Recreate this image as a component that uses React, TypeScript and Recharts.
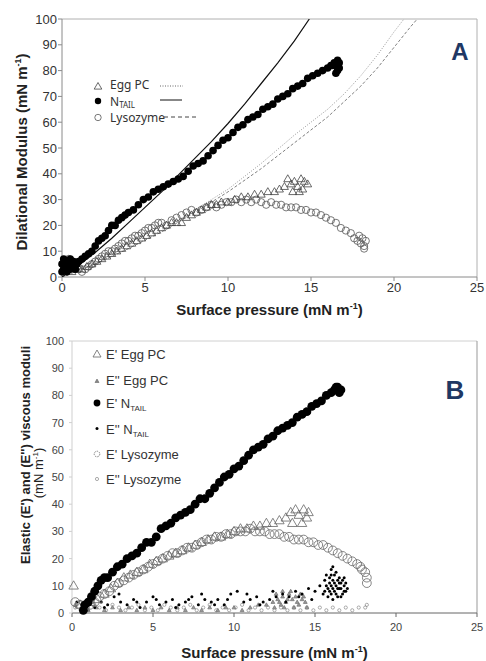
import { ScatterChart, Scatter, XAxis, YAxis, ReferenceLine } from 'recharts';

const xTicks = [0, 5, 10, 15, 20, 25];
const yTicks = [0, 10, 20, 30, 40, 50, 60, 70, 80, 90, 100];

// ---- panel A: dilational modulus vs surface pressure ----
const aEggPC = [
  [0.6, 2], [0.9, 3], [1.2, 3], [1.5, 4], [1.8, 5], [2.1, 6], [2.4, 7], [2.7, 8], [3, 9], [3.3, 10],
  [3.6, 11], [3.9, 12], [4.2, 13], [4.5, 14], [4.8, 15], [5.1, 16], [5.4, 17], [5.7, 18], [6, 19],
  [6.3, 20], [6.6, 21], [6.9, 21], [7.2, 21], [7.5, 23], [7.8, 24], [8.1, 25], [8.4, 26], [8.7, 27],
  [9, 28], [9.3, 28], [9.6, 29], [10, 29], [10.4, 30], [10.8, 31], [11.2, 31], [11.6, 32], [12, 32],
  [12.4, 33], [12.8, 33], [13.1, 34], [13.4, 35], [13.6, 38], [13.8, 36], [14, 37], [14.2, 35],
  [14.4, 38], [14.6, 37], [14.8, 36], [13.9, 33], [14.3, 33], [14.5, 34],
];
const aNtail = [
  [0, 2], [0, 5], [0.1, 3], [0.1, 7], [0.2, 4], [0.3, 6], [0.3, 2], [0.4, 5], [0.5, 3], [0.5, 7],
  [0.6, 4], [0.7, 6], [0.8, 3], [0.9, 5], [1, 6], [1.2, 7], [1.4, 8], [1.6, 9], [1.8, 10], [2, 12],
  [2.2, 14], [2.4, 15], [2.6, 16], [2.8, 18], [3, 20], [3.2, 20], [3.4, 22], [3.6, 23], [3.8, 24],
  [4, 25], [4.3, 26], [4.6, 28], [4.9, 30], [5.2, 31], [5.5, 33], [5.8, 34], [6.1, 35], [6.4, 36],
  [6.7, 37], [7, 38], [7.3, 39], [7.6, 41], [7.9, 43], [8.2, 44], [8.5, 45], [8.8, 47], [9.1, 49],
  [9.4, 51], [9.7, 53], [10, 54], [10.3, 56], [10.6, 58], [10.9, 59], [11.2, 61], [11.5, 62],
  [11.8, 63], [12.1, 65], [12.4, 66], [12.7, 67], [13, 69], [13.3, 70], [13.6, 71], [13.9, 73],
  [14.2, 74], [14.5, 75], [14.8, 77], [15.1, 78], [15.4, 79], [15.7, 80], [16, 81], [16.2, 82],
  [16.4, 83], [16.6, 84], [16.7, 83], [16.7, 81], [16.6, 80], [16.5, 79], [16.3, 82], [16.5, 82],
];
const aLysozyme = [
  [0.1, 3], [0.2, 6], [0.4, 7], [0.6, 5], [0.8, 4], [1, 3], [1.2, 2], [1.4, 3], [1.6, 4], [1.8, 5],
  [2, 6], [2.2, 7], [2.4, 8], [2.6, 9], [2.8, 10], [3, 10], [3.2, 11], [3.4, 12], [3.6, 13], [3.8, 14],
  [4, 14], [4.2, 15], [4.4, 16], [4.6, 16], [4.8, 17], [5, 18], [5.2, 19], [5.4, 19], [5.6, 20],
  [5.8, 21], [6, 21], [6.3, 20], [6.6, 22], [6.9, 23], [7.2, 24], [7.5, 25], [7.8, 26], [8.1, 25],
  [8.4, 26], [8.7, 27], [9, 28], [9.3, 27], [9.6, 28], [9.9, 29], [10.2, 29], [10.5, 30], [10.8, 29],
  [11.1, 30], [11.4, 29], [11.7, 30], [12, 29], [12.3, 28], [12.6, 29], [12.9, 28], [13.2, 28],
  [13.5, 27], [13.8, 27], [14.1, 27], [14.4, 26], [14.7, 26], [15, 25], [15.3, 25], [15.6, 24],
  [15.9, 23], [16.2, 22], [16.5, 21], [16.8, 19], [17.1, 18], [17.4, 17], [17.6, 15], [17.8, 14],
  [18, 13], [18.2, 12], [18.1, 15], [17.9, 16], [18.2, 11], [18.3, 14],
];
// fitted curves
const fitNtail = [
  [0, 0], [1, 4.5], [2, 9.5], [3, 15], [4, 21], [5, 27], [6, 33], [7, 39.5], [8, 46], [9, 52.5],
  [10, 59.5], [11, 67], [12, 75], [13, 83], [14, 91.5], [14.9, 100],
];
const fitEggPC = [
  [0, 0], [2, 5], [4, 11], [6, 18], [8, 26], [10, 34], [12, 44], [14, 55], [16, 65], [17, 71],
  [18, 78], [19, 86], [20, 95], [20.6, 100],
];
const fitLysozyme = [
  [0, 0], [2, 5], [4, 11], [6, 17.5], [8, 25], [10, 33], [12, 42], [14, 52], [16, 62], [17, 68],
  [18, 74], [19, 81], [20, 89], [21, 97], [21.4, 100],
];

// ---- panel B: elastic E' and viscous E'' moduli ----
const bEggPCE1 = [
  [0.1, 10], [0.5, 3], [0.8, 2], [1.2, 4], [1.6, 5], [2, 7], [2.4, 9], [2.8, 11], [3.2, 13], [3.6, 14],
  [4, 15], [4.4, 16], [4.8, 18], [5.2, 19], [5.6, 20], [6, 21], [6.4, 22], [6.8, 23], [7.2, 24],
  [7.6, 25], [8, 26], [8.4, 27], [8.8, 28], [9.2, 28], [9.6, 29], [10, 30], [10.4, 31], [10.8, 31],
  [11.2, 32], [11.6, 32], [12, 33], [12.4, 33], [12.8, 34], [13.2, 35], [13.5, 37], [13.8, 38],
  [14, 36], [14.3, 38], [14.6, 37], [13.6, 33], [14.2, 33], [14.5, 35],
];
const bEggPCE2 = [
  [0.2, 3], [0.6, 2], [1, 1], [1.5, 2], [2, 1], [2.5, 2], [3, 1], [3.5, 2], [4, 1], [4.5, 2], [5, 1],
  [5.5, 2], [6, 1], [6.5, 2], [7, 1], [7.5, 2], [8, 1], [8.5, 2], [9, 1], [9.5, 2], [10, 2], [10.5, 1],
  [11, 2], [11.5, 3], [12, 3], [12.4, 4], [12.7, 5], [13, 6], [13.2, 4], [13.4, 7], [13.6, 5],
  [13.8, 6], [14, 3], [14.2, 5], [14.4, 4], [13.1, 2], [13.7, 2], [12.9, 3], [12.6, 7], [13, 8],
  [13.3, 5], [13.5, 8], [13.9, 4], [14.1, 7], [14.3, 6], [12.8, 4], [12.5, 2], [14.5, 2],
];
const bNtailE1 = [
  [0.7, 1], [0.8, 3], [1, 4], [1.2, 6], [1.4, 8], [1.6, 10], [1.8, 12], [2, 13], [2.2, 13], [2.5, 15],
  [2.8, 17], [3.1, 18], [3.4, 20], [3.7, 21], [4, 22], [4.3, 24], [4.6, 26], [4.9, 26], [5.2, 28],
  [5.5, 31], [5.8, 32], [6.1, 33], [6.4, 35], [6.7, 36], [7, 37], [7.3, 38], [7.6, 40], [7.9, 42],
  [8.2, 42], [8.5, 44], [8.8, 46], [9.1, 48], [9.4, 50], [9.7, 51], [10, 53], [10.3, 54], [10.6, 56],
  [10.9, 58], [11.2, 60], [11.5, 61], [11.8, 62], [12.1, 64], [12.4, 65], [12.7, 67], [13, 68],
  [13.3, 69], [13.6, 70], [13.9, 72], [14.2, 73], [14.5, 74], [14.8, 76], [15.1, 77], [15.4, 78],
  [15.7, 80], [16, 81], [16.2, 82], [16.4, 83], [16.6, 82], [16.5, 81], [16.3, 83],
];
const bNtailE2 = [
  [0.3, 4], [0.6, 3], [1, 5], [1.2, 7], [1.4, 2], [1.8, 4], [2, 2], [2.2, 3], [2.6, 6], [2.9, 7], [3, 4],
  [3.4, 3], [3.8, 5], [4, 4], [4.2, 2], [4.6, 4], [5, 6], [5.2, 5], [5.4, 3], [5.8, 4], [6.2, 5], [6.4, 2],
  [6.6, 3], [7, 4], [7.2, 5], [7.4, 6], [7.8, 3], [8, 7], [8.2, 5], [8.6, 4], [8.8, 3], [9, 5], [9.4, 3],
  [9.6, 5], [9.8, 7], [10.2, 8], [10.6, 4], [10.8, 7], [11, 5], [11.4, 6], [11.6, 3], [11.8, 4],
  [12.2, 5], [12.4, 8], [12.6, 6], [13, 7], [13.2, 4], [13.4, 6], [13.8, 8], [14, 6], [14.2, 7],
  [14.6, 9], [14.8, 5], [15, 8], [15.3, 10], [15.5, 7], [15.6, 12], [15.6, 8], [15.7, 14], [15.7, 10],
  [15.8, 9], [15.8, 6], [15.9, 11], [15.9, 13], [15.9, 8], [16, 14], [16, 7], [16, 10], [16, 16],
  [16.1, 5], [16.1, 12], [16.1, 9], [16.1, 17], [16.2, 11], [16.2, 8], [16.2, 14], [16.3, 15],
  [16.3, 10], [16.3, 7], [16.4, 6], [16.4, 12], [16.4, 9], [16.5, 13], [16.5, 9], [16.5, 11],
  [16.6, 9], [16.6, 11], [16.6, 6], [16.7, 12], [16.7, 7], [16.8, 10], [16.8, 13], [16.8, 8],
  [16.9, 8], [16.9, 11], [17, 9],
];
const bLysoE1 = [
  [0.2, 4], [0.5, 3], [0.8, 2], [1.1, 3], [1.4, 4], [1.7, 6], [2, 7], [2.3, 8], [2.6, 10], [2.9, 11],
  [3.2, 12], [3.5, 13], [3.8, 14], [4.1, 15], [4.4, 16], [4.7, 17], [5, 18], [5.3, 19], [5.6, 20],
  [5.9, 21], [6.2, 22], [6.5, 22], [6.8, 23], [7.1, 24], [7.4, 24], [7.7, 25], [8, 26], [8.3, 27],
  [8.6, 27], [8.9, 28], [9.2, 28], [9.5, 29], [9.8, 29], [10.1, 30], [10.4, 30], [10.7, 30], [11, 31],
  [11.3, 30], [11.6, 30], [11.9, 30], [12.2, 29], [12.5, 29], [12.8, 29], [13.1, 28], [13.4, 28],
  [13.7, 27], [14, 27], [14.3, 27], [14.6, 26], [14.9, 26], [15.2, 25], [15.5, 25], [15.8, 24],
  [16.1, 23], [16.4, 22], [16.7, 21], [17, 20], [17.3, 19], [17.6, 18], [17.9, 16], [18.1, 15],
  [18.2, 13], [18.2, 11], [17.8, 17],
];
const bLysoE2 = [
  [0.2, 2], [0.5, 4], [0.9, 1], [1.3, 3], [1.7, 2], [2.1, 1], [2.5, 3], [2.9, 2], [3.3, 1], [3.7, 2],
  [4.1, 3], [4.5, 1], [4.9, 2], [5.3, 1], [5.7, 3], [6.1, 2], [6.5, 1], [6.9, 2], [7.3, 3], [7.7, 1],
  [8.1, 2], [8.5, 3], [8.9, 1], [9.3, 2], [9.7, 1], [10.1, 2], [10.5, 3], [10.9, 1], [11.3, 2],
  [11.7, 1], [12.1, 2], [12.5, 1], [12.9, 2], [13.3, 1], [13.7, 2], [14.1, 1], [14.5, 2], [14.9, 1],
  [15.3, 2], [15.7, 1], [16.1, 2], [16.5, 1], [16.9, 2], [17.3, 1], [17.7, 2], [18.1, 2], [18.2, 3],
];

const pts = (arr: number[][]) => arr.map(([x, y]) => ({ x, y }));

const SANS = '"Liberation Sans", Arial, sans-serif';
const NAVY = '#1F3864';

const dot = (r: number, fill: string) => (p: any) => <circle cx={p.cx} cy={p.cy} r={r} fill={fill} />;
const ring = (r: number, stroke: string, w = 0.8) => (p: any) => (
  <circle cx={p.cx} cy={p.cy} r={r} fill="none" stroke={stroke} strokeWidth={w} />
);
const tri = (s: number, stroke: string, fill = 'none') => (p: any) => (
  <path
    d={`M${p.cx},${p.cy - s} L${p.cx + s * 0.95},${p.cy + s * 0.65} L${p.cx - s * 0.95},${p.cy + s * 0.65} Z`}
    fill={fill}
    stroke={stroke}
    strokeWidth={0.8}
  />
);
const none = () => <g />;

const axisTitleX = (y: number) => (props: any) => {
  const vb = props.viewBox;
  return (
    <text x={vb.x + vb.width / 2} y={vb.y + y} textAnchor="middle" fontFamily={SANS} fontWeight="bold" fontSize={15} fill="#222">
      Surface pressure (mN m<tspan dy={-6} fontSize={9}>-1</tspan><tspan dy={6}>)</tspan>
    </text>
  );
};

const PanelA = () => (
  <ScatterChart width={486} height={330} margin={{ top: 19, right: 9, left: 0, bottom: 0 }}>
    <XAxis
      type="number"
      dataKey="x"
      domain={[0, 25]}
      ticks={xTicks}
      height={53}
      stroke="#8a8a8a"
      tickSize={4}
      tick={{ fontSize: 13, fill: '#333', fontFamily: SANS }}
      label={{ content: axisTitleX(38) }}
    />
    <YAxis
      type="number"
      dataKey="y"
      domain={[0, 100]}
      ticks={yTicks}
      width={62}
      stroke="#8a8a8a"
      tickSize={4}
      tickMargin={1}
      allowDataOverflow
      tick={{ fontSize: 13, fill: '#333', fontFamily: SANS }}
      label={{
        content: () => (
          <text transform="translate(27,152) rotate(-90)" textAnchor="middle" fontFamily={SANS} fontWeight="bold" fontSize={15} fill="#222">
            Dilational Modulus (mN m<tspan dy={-6} fontSize={9}>-1</tspan><tspan dy={6}>)</tspan>
          </text>
        ),
      }}
    />
    <ReferenceLine y={100} stroke="#b0b0b0" />
    <ReferenceLine x={25} stroke="#b0b0b0" />
    <Scatter data={pts(fitEggPC)} line={{ stroke: '#9a9a9a', strokeWidth: 1, strokeDasharray: '1 1.5' }} shape={none} isAnimationActive={false} />
    <Scatter data={pts(fitLysozyme)} line={{ stroke: '#808080', strokeWidth: 1, strokeDasharray: '3 2' }} shape={none} isAnimationActive={false} />
    <Scatter data={pts(aLysozyme)} shape={ring(3.6, '#555')} isAnimationActive={false} />
    <Scatter data={pts(aEggPC)} shape={tri(4.2, '#444')} isAnimationActive={false} />
    <Scatter data={pts(fitNtail)} line={{ stroke: '#111', strokeWidth: 1.2 }} shape={none} isAnimationActive={false} />
    <Scatter data={pts(aNtail)} shape={dot(3.8, '#000')} isAnimationActive={false} />
  </ScatterChart>
);

const PanelB = () => (
  <ScatterChart width={486} height={341} margin={{ top: 21, right: 9, left: 0, bottom: 0 }}>
    <XAxis
      type="number"
      dataKey="x"
      domain={[0, 25]}
      ticks={xTicks}
      height={48}
      stroke="#666"
      tickSize={4}
      tickMargin={6}
      tick={{ fontSize: 11, fill: '#444', fontFamily: SANS }}
      label={{ content: axisTitleX(45) }}
    />
    <YAxis
      type="number"
      dataKey="y"
      domain={[0, 100]}
      ticks={yTicks}
      width={72}
      stroke="#cfcfcf"
      tickSize={3}
      tickMargin={5}
      tick={{ fontSize: 11, fill: '#444', fontFamily: SANS }}
      label={{
        content: () => (
          <g fontFamily={SANS} fill="#222">
            <text transform="translate(30,135) rotate(-90)" textAnchor="middle" fontWeight="bold" fontSize={13}>
              Elastic (E') and (E'') viscous moduli
            </text>
            <text transform="translate(43,153) rotate(-90)" textAnchor="middle" fontSize={13}>
              (mN m<tspan dy={-5} fontSize={8}>-1</tspan><tspan dy={5}>)</tspan>
            </text>
          </g>
        ),
      }}
    />
    <ReferenceLine y={100} stroke="#d0d0d0" />
    <ReferenceLine x={25} stroke="#999" />
    <Scatter data={pts(bLysoE2)} shape={ring(1.6, '#777', 0.6)} isAnimationActive={false} />
    <Scatter data={pts(bEggPCE2)} shape={tri(2, '#777', '#999')} isAnimationActive={false} />
    <Scatter data={pts(bNtailE2)} shape={dot(1.5, '#000')} isAnimationActive={false} />
    <Scatter data={pts(bLysoE1)} shape={ring(4.4, '#666')} isAnimationActive={false} />
    <Scatter data={pts(bEggPCE1)} shape={tri(5, '#666')} isAnimationActive={false} />
    <Scatter data={pts(bNtailE1)} shape={dot(4.4, '#000')} isAnimationActive={false} />
  </ScatterChart>
);

const LegendA = () => (
  <g fontFamily='"Noto Sans", sans-serif' fontSize={12} fill="#333">
    <path d="M98,82.5 L101.8,89.1 L94.2,89.1 Z" fill="none" stroke="#444" strokeWidth={0.8} />
    <text x={110} y={89}>Egg PC</text>
    <line x1={160} x2={183} y1={86} y2={86} stroke="#666" strokeDasharray="1 1.5" />
    <circle cx={98} cy={101} r={3.2} fill="#000" />
    <text x={110} y={105.5}>N<tspan fontSize={8} dy={2.5}>TAIL</tspan></text>
    <line x1={160} x2={182} y1={100} y2={100} stroke="#111" />
    <circle cx={98} cy={117.5} r={3.2} fill="none" stroke="#555" strokeWidth={0.8} />
    <text x={110} y={122}>Lysozyme</text>
    <line x1={164} x2={198} y1={117} y2={117} stroke="#444" strokeDasharray="4 3" />
  </g>
);

const LegendB = () => (
  <g fontFamily={SANS} fontSize={13} fill="#333">
    <path d="M97,350 L101,357 L93,357 Z" fill="none" stroke="#666" strokeWidth={0.8} />
    <text x={106} y={359}>E' Egg PC</text>
    <path d="M97,379 L99,382.5 L95,382.5 Z" fill="#888" stroke="#666" strokeWidth={0.6} />
    <text x={106} y={385}>E'' Egg PC</text>
    <circle cx={97} cy={403} r={3.4} fill="#000" />
    <text x={106} y={408}>E' N<tspan fontSize={8} dy={2.5}>TAIL</tspan></text>
    <circle cx={97} cy={428.5} r={1.5} fill="#000" />
    <text x={106} y={434}>E'' N<tspan fontSize={8} dy={2.5}>TAIL</tspan></text>
    <circle cx={97} cy={454} r={2.8} fill="none" stroke="#666" strokeWidth={0.8} strokeDasharray="1.5 1" />
    <text x={106} y={459}>E' Lysozyme</text>
    <circle cx={97} cy={479} r={1.6} fill="none" stroke="#888" strokeWidth={0.7} />
    <text x={106} y={484}>E'' Lysozyme</text>
  </g>
);

export default function App() {
  return (
    <div style={{ position: 'absolute', left: 0, top: 0, width: 486, height: 661, background: '#fff', overflow: 'hidden' }}>
      <div style={{ position: 'absolute', left: 0, top: 0 }}>
        <PanelA />
      </div>
      <div style={{ position: 'absolute', left: 0, top: 320 }}>
        <PanelB />
      </div>
      <svg width={486} height={661} style={{ position: 'absolute', left: 0, top: 0, pointerEvents: 'none' }}>
        <LegendA />
        <LegendB />
        <text x={460} y={60} textAnchor="middle" fontFamily={SANS} fontWeight="bold" fontSize={24} fill={NAVY}>A</text>
        <text x={455} y={399} textAnchor="middle" fontFamily={SANS} fontWeight="bold" fontSize={26} fill={NAVY}>B</text>
      </svg>
    </div>
  );
}
